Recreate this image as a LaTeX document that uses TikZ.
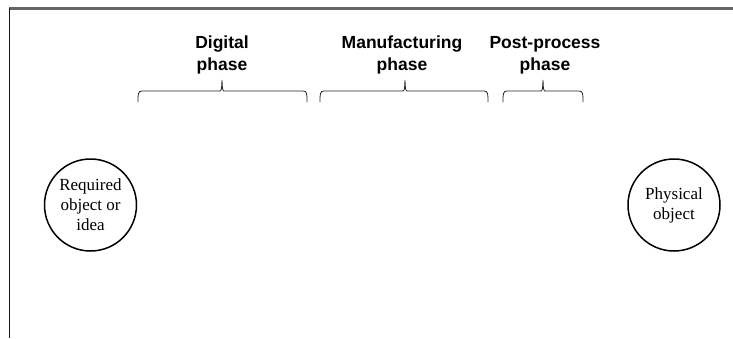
\documentclass[tikz,border=0pt]{standalone}
\usepackage{fontspec}
\setmainfont{Liberation Serif}
\newfontfamily\headfont{Liberation Sans}
\begin{document}
\begin{tikzpicture}[x=1pt,y=-1pt,
  framelinetop/.style={draw=black!60,line width=2.2pt},
  framelineleft/.style={draw=black!90,line width=1.4pt},
  ring/.style={circle,draw=black,line width=1.5pt,minimum size=92pt,inner sep=0pt,align=center,
    font=\fontsize{17}{20}\selectfont},
  phaselabel/.style={align=center,inner sep=0pt,anchor=base,
    font=\headfont\bfseries\fontsize{17.5}{22}\selectfont},
  bracket/.style={draw=black!85,line width=0.8pt}]
\useasboundingbox (0,0) rectangle (733,338);
\fill[white] (0,0) rectangle (733,338);
% frame
\coordinate (ftl) at (9,8.5);
\coordinate (ftr) at (733,8.5);
\coordinate (fbl) at (9.5,338);
\draw[framelinetop] (ftl) -- (ftr);
\draw[framelineleft] (9.5,7.5) -- (fbl);
% headings
\node[phaselabel] (dig) at (222,70.5) {Digital\\phase};
\node[phaselabel] (man) at (402,70.5) {Manufacturing\\phase};
\node[phaselabel] (post) at (545,70.5) {Post-process\\phase};
% braces
\foreach \xa/\xt/\xb in {138/222/307, 320/405/488, 503/543/583}{
  \draw[bracket] (\xa,102) .. controls (\xa,94) and (\xa,91) .. (\xa+4,91)
     -- (\xt-3,91) .. controls (\xt-0.5,91) .. (\xt,80)
     .. controls (\xt+0.5,91) .. (\xt+3,91)
     -- (\xb-4,91) .. controls (\xb,91) and (\xb,94) .. (\xb,102);
}
% circles
\node[ring] (req) at (90.5,205) {Required\\object or\\idea};
\node[ring] (phys) at (674,205) {Physical\\object};
\end{tikzpicture}
\end{document}
